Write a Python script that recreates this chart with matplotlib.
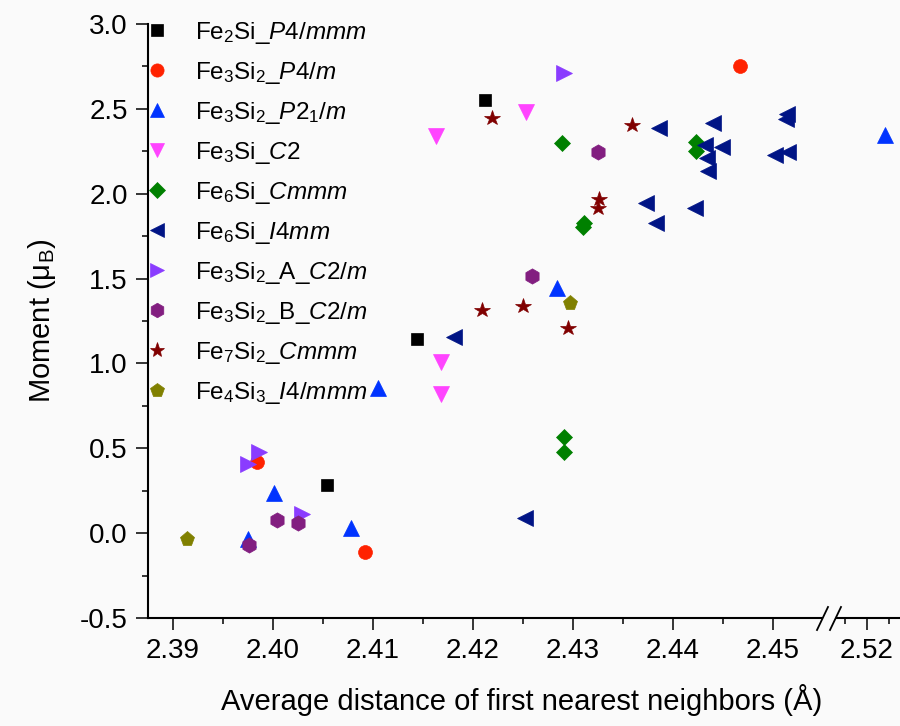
import matplotlib
matplotlib.use("Agg")
import matplotlib.pyplot as plt
from matplotlib.lines import Line2D
from matplotlib.ticker import MultipleLocator, FixedLocator

plt.rcParams['font.family'] = ['Liberation Sans', 'DejaVu Sans']
plt.rcParams['mathtext.fontset'] = 'custom'
plt.rcParams['mathtext.rm'] = 'Liberation Sans'
plt.rcParams['mathtext.it'] = 'Liberation Sans:italic'
plt.rcParams['mathtext.bf'] = 'Liberation Sans:bold'

# ---------------- data ----------------
fe2si_x = [2.4212, 2.4144, 2.4054]
fe2si_y = [2.552, 1.143, 0.281]

fe3si2_p4m_x = [2.4467, 2.3984, 2.4092]
fe3si2_p4m_y = [2.752, 0.420, -0.114]

fe3si2_p21m_x = [2.5242, 2.4284, 2.4105, 2.4001, 2.4078, 2.3975]
fe3si2_p21m_y = [2.346, 1.442, 0.853, 0.238, 0.028, -0.035]

fe3si_c2_x = [2.4163, 2.4253, 2.4168, 2.4168]
fe3si_c2_y = [2.340, 2.483, 1.010, 0.819]

fe6si_cmmm_x = [2.4289, 2.4423, 2.4423, 2.4311, 2.4310, 2.4291, 2.4291]
fe6si_cmmm_y = [2.300, 2.306, 2.253, 1.829, 1.805, 0.568, 0.477]

fe6si_i4mm_x = [2.4386, 2.4440, 2.4514, 2.4513, 2.4432, 2.4434, 2.4435, 2.4449,
                2.4502, 2.4515, 2.4373, 2.4422, 2.4383, 2.4181, 2.4252]
fe6si_i4mm_y = [2.385, 2.415, 2.470, 2.440, 2.289, 2.208, 2.133, 2.277,
                2.228, 2.247, 1.943, 1.917, 1.825, 1.157, 0.090]

fe3si2_a_x = [2.4291, 2.3975, 2.3986, 2.4029]
fe3si2_a_y = [2.709, 0.407, 0.476, 0.110]

fe3si2_b_x = [2.4325, 2.4259, 2.4004, 2.4025, 2.3976]
fe3si2_b_y = [2.247, 1.515, 0.077, 0.057, -0.071]

fe7si2_x = [2.4219, 2.4359, 2.4326, 2.4325, 2.4209, 2.4250, 2.4295]
fe7si2_y = [2.444, 2.405, 1.967, 1.914, 1.314, 1.338, 1.210]

fe4si3_x = [2.4297, 2.3914]
fe4si3_y = [1.357, -0.037]

labels = [
    r'Fe$_2$Si_$\mathit{P4/mmm}$',
    r'Fe$_3$Si$_2$_$\mathit{P4/m}$',
    r'Fe$_3$Si$_2$_$\mathit{P}$2$_1$/$\mathit{m}$',
    r'Fe$_3$Si_$\mathit{C2}$',
    r'Fe$_6$Si_$\mathit{Cmmm}$',
    r'Fe$_6$Si_$\mathit{I4mm}$',
    r'Fe$_3$Si$_2$_A_$\mathit{C2/m}$',
    r'Fe$_3$Si$_2$_B_$\mathit{C2/m}$',
    r'Fe$_7$Si$_2$_$\mathit{Cmmm}$',
    r'Fe$_4$Si$_3$_$\mathit{I4/mmm}$',
]

series = [
    (fe2si_x, fe2si_y, 's', '#000000', 9),
    (fe3si2_p4m_x, fe3si2_p4m_y, 'o', '#FF2200', 10),
    (fe3si2_p21m_x, fe3si2_p21m_y, '^', '#0033FF', 11),
    (fe3si_c2_x, fe3si_c2_y, 'v', '#FF44FF', 11),
    (fe6si_cmmm_x, fe6si_cmmm_y, 'D', '#008000', 8.5),
    (fe6si_i4mm_x, fe6si_i4mm_y, '<', '#001485', 11),
    (fe3si2_a_x, fe3si2_a_y, '>', '#8A3CFF', 11),
    (fe3si2_b_x, fe3si2_b_y, 'h', '#821E80', 11),
    (fe7si2_x, fe7si2_y, '*', '#800000', 11.5),
    (fe4si3_x, fe4si3_y, 'p', '#808000', 11),
]

# ---------------- layout ----------------
W, H = 900, 726
def fx(px):
    return px / W
def fy(py):
    return 1 - py / H

fig = plt.figure(figsize=(9, 7.26), dpi=100, facecolor='#fafafa')
axL = fig.add_axes([fx(148), fy(618), fx(822) - fx(148), fy(24) - fy(618)])
axR = fig.add_axes([fx(837), fy(618), fx(900) - fx(837), fy(24) - fy(618)], sharey=axL)

handles = []
for ax in (axL, axR):
    ax.set_facecolor('none')
    for (xs, ys, m, c, ms), lab in zip(series, labels):
        h, = ax.plot(xs, ys, linestyle='none', marker=m, color=c, markersize=ms,
                     markeredgewidth=0.5, markeredgecolor=c, label=lab, clip_on=True)
        if ax is axL:
            handles.append(h)
    for s in ('top', 'right'):
        ax.spines[s].set_visible(False)
    ax.spines['bottom'].set_linewidth(1.5)
    ax.spines['left'].set_linewidth(1.5)
    ax.tick_params(axis='both', which='major', direction='out', length=8.5, width=1.1,
                   labelsize=20, pad=6)
    ax.tick_params(axis='both', which='minor', direction='out', length=4, width=1.1)

axL.set_xlim(2.3875, 2.4549)
axL.set_ylim(-0.5, 3.0)
axL.xaxis.set_major_locator(MultipleLocator(0.01))
axL.xaxis.set_minor_locator(MultipleLocator(0.005))
axL.yaxis.set_major_locator(MultipleLocator(0.5))
axL.yaxis.set_minor_locator(MultipleLocator(0.25))
axL.xaxis.set_major_formatter(matplotlib.ticker.FormatStrFormatter('%.2f'))
axL.yaxis.set_major_formatter(matplotlib.ticker.FormatStrFormatter('%.1f'))

axR.set_xlim(2.5132, 2.5275)
axR.xaxis.set_major_locator(FixedLocator([2.52]))
axR.xaxis.set_minor_locator(FixedLocator([2.515, 2.525]))
axR.xaxis.set_major_formatter(matplotlib.ticker.FormatStrFormatter('%.2f'))
axR.spines['left'].set_visible(False)
axR.tick_params(axis='y', which='both', left=False, labelleft=False)

# axis break marks
for x0 in (817, 830):
    fig.add_artist(Line2D([fx(x0), fx(x0 + 11)], [fy(630), fy(607)],
                          color='black', lw=1.3))

axL.set_ylabel(r'Moment (μ$_\mathrm{B}$)', fontsize=21, labelpad=16)
fig.text(fx(522), fy(700), 'Average distance of first nearest neighbors (Å)',
         fontsize=21, ha='center', va='center')

axL.legend(handles=handles, loc='upper left', bbox_to_anchor=(fx(145), fy(20)),
           bbox_transform=fig.transFigure, frameon=False, fontsize=17.5,
           borderpad=0, handlelength=1.0, handletextpad=1.05, labelspacing=0.575,
           borderaxespad=0, markerscale=0.95)

fig.savefig('out.png', dpi=100, facecolor=fig.get_facecolor())
